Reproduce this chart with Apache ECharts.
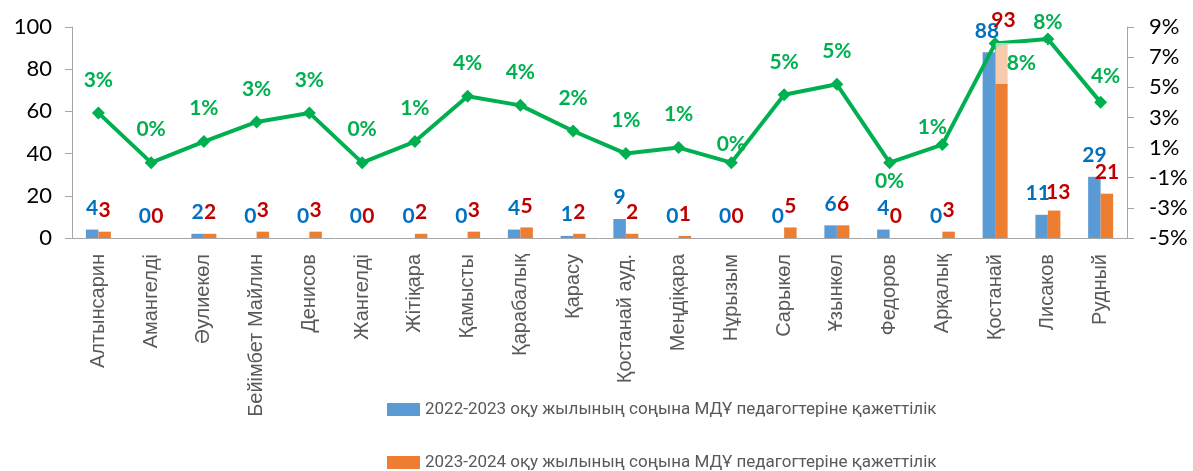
<!DOCTYPE html>
<html>
<head>
<meta charset="utf-8">
<script src="https://cdn.jsdelivr.net/npm/echarts@6/dist/echarts.min.js"></script>
<style>html,body{margin:0;padding:0;background:#fff}#c{width:1193px;height:471px}</style>
</head>
<body>
<div id="c"></div>
<script>
const categories = ['Алтынсарин','Амангелді','Әулиекөл','Бейімбет Майлин','Денисов','Жангелді','Жітіқара','Қамысты','Қарабалық','Қарасу','Қостанай ауд.','Меңдіқара','Нұрызым','Сарыкөл','Ұзынкөл','Федоров','Арқалық','Қостанай','Лисаков','Рудный'];
const series2223 = [4,0,2,0,0,0,0,0,4,1,9,0,0,0,6,4,0,88,11,29];
const series2324 = [3,0,2,3,3,0,2,3,5,2,2,1,0,5,6,0,3,93,13,21];
const sharePct = [3.3,0.0,1.4,2.7,3.3,0.0,1.4,4.4,3.8,2.1,0.6,1.0,0.0,4.5,5.2,0.0,1.2,7.9,8.2,4.0];
const leftTicks = {min:0, max:100, interval:20};
const rightTicks = {min:-5, max:9, interval:2};
const name2223 = '2022-2023 оқу жылының соңына МДҰ педагогтеріне қажеттілік';
const name2324 = '2023-2024 оқу жылының соңына МДҰ педагогтеріне қажеттілік';

// label placement tweaks (style only)
const lineLabelTweaks = {
  12: {position:'top', distance:1},
  15: {position:'bottom', distance:2},
  16: {position:'top', distance:0, offset:[-10,0]},
  17: {position:[7,6], padding:[10,11], backgroundColor:'rgba(255,255,255,0.6)'},
  18: {position:'top', distance:0},
  19: {position:'top', distance:9, offset:[5,0]}
};
const blueLabelTweaks = {18:{offset:[-4,0]}, 17:{offset:[-2,0]}};
const orangeLabelTweaks = {18:{offset:[4,0], distance:8}, 17:{offset:[2,0]}};
const withTweaks = (arr, tw) => arr.map((v,i)=> tw[i] ? {value:v, label:tw[i]} : v);

const chart = echarts.init(document.getElementById('c'));
const axisLine = {show:true, lineStyle:{color:'#A6A6A6', width:1}};
const legendText = {fontSize:17, color:'#595959', fontFamily:'Roboto, sans-serif'};
chart.setOption({
  animation:false,
  grid:{left:72, right:66, top:27, bottom:233},
  legend:[
    {data:[name2223], left:387, top:401, padding:0, icon:'rect', itemWidth:33, itemHeight:13, itemGap:0, textStyle:legendText},
    {data:[name2324], left:387, top:454, padding:0, icon:'rect', itemWidth:33, itemHeight:13, itemGap:0, textStyle:legendText}
  ],
  xAxis:{
    type:'category', data:categories,
    axisLine:axisLine, axisTick:{show:false},
    axisLabel:{rotate:90, interval:0, fontSize:20, color:'#595959', fontFamily:'"Liberation Sans", Arial, sans-serif', margin:16}
  },
  yAxis:[
    {type:'value', min:leftTicks.min, max:leftTicks.max, interval:leftTicks.interval,
     axisLine:axisLine, axisTick:{show:true, length:7, lineStyle:{color:'#A6A6A6'}}, splitLine:{show:false},
     axisLabel:{fontSize:22, color:'#000', fontFamily:'Lato, sans-serif', margin:20}},
    {type:'value', min:rightTicks.min, max:rightTicks.max, interval:rightTicks.interval,
     axisLine:axisLine, axisTick:{show:true, length:7, lineStyle:{color:'#A6A6A6'}}, splitLine:{show:false},
     axisLabel:{fontSize:22, color:'#000', fontFamily:'Lato, sans-serif', margin:22, formatter:v=>v+'%'}}
  ],
  series:[
    {name:name2223, type:'bar', data:withTweaks(series2223, blueLabelTweaks), barWidth:12.5, barGap:'0%',
     itemStyle:{color:'#5B9BD5'},
     label:{show:true, position:'top', distance:11, color:'#0070C0', fontSize:21, fontWeight:'bold', fontFamily:'Lato, sans-serif'}},
    {name:name2324, type:'bar', data:withTweaks(series2324, orangeLabelTweaks), barWidth:12.5, barGap:'0%',
     itemStyle:{color:'#ED7D31'},
     label:{show:true, position:'top', distance:11, color:'#C00000', fontSize:21, fontWeight:'bold', fontFamily:'Lato, sans-serif'}},
    {name:'share', type:'line', yAxisIndex:1, data:withTweaks(sharePct, lineLabelTweaks), z:5,
     symbol:'diamond', symbolSize:13, lineStyle:{color:'#00B050', width:4}, itemStyle:{color:'#00B050'},
     label:{show:true, position:'top', distance:16, color:'#00B050', fontSize:21, fontWeight:'bold', fontFamily:'Lato, sans-serif',
            formatter:p=>Math.round(p.value)+'%'}}
  ]
});
</script>
</body>
</html>
